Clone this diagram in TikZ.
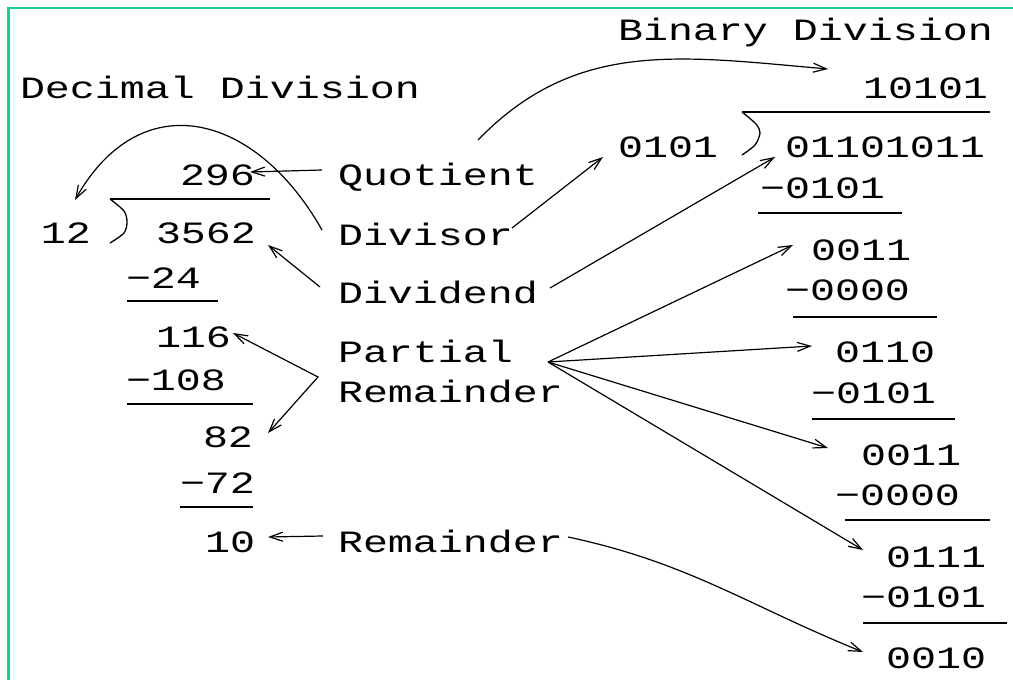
\documentclass[tikz,border=0pt]{standalone}
\usepackage{fontspec}
\usetikzlibrary{arrows.meta,calc}
\newfontfamily\codefont[FakeStretch=1.344]{Liberation Mono}
\definecolor{frameteal}{RGB}{25,204,150}

\begin{document}
\begin{tikzpicture}[x=1pt,y=-1pt,
  txt/.style={anchor=base west,inner sep=0pt,outer sep=0pt,
              font=\codefont\fontsize{31pt}{36pt}\selectfont},
  tipstyle/.style={},
  conn/.style={line width=1.2pt,-{Straight Barb[length=13pt,width=9pt]}},
  conntwo/.style={line width=1.2pt,{Straight Barb[length=13pt,width=9pt]}-{Straight Barb[length=13pt,width=9pt]}},
  rule/.style={line width=2pt},
  bracket/.style={line width=1.3pt}]
\useasboundingbox (0,0) rectangle (1013,680);

% frame along the top and left edges
\draw[frameteal,line width=2.5pt] (8.5,680) -- (8.5,8) -- (1013,8);

% titles
\node[txt] (tdec) at (20,98)  {Decimal Division};
\node[txt] (tbin) at (618,40) {Binary Division};

% decimal long division
\node[txt] (q296)  at (180,185) {296};
\node[txt] (n12)   at (41,243)  {12};
\node[txt] (n3562) at (156,243) {3562};
\node[txt] (m24)   at (126,288) {−24};
\node[txt] (n116)  at (156,347) {116};
\node[txt] (m108)  at (126,390) {−108};
\node[txt] (n82)   at (203,447) {82};
\node[txt] (m72)   at (180,493) {−72};
\node[txt] (n10)   at (205,552) {10};

\draw[rule] (110,199) -- (270,199);
\draw[bracket] plot[smooth] coordinates {(110,199) (124,211) (127,222) (124,233) (110,243)};
\draw[rule] (127,301) -- (218,301);
\draw[rule] (127,404) -- (253,404);
\draw[rule] (180,507) -- (253,507);

% labels
\node[txt] (lquot)     at (338,185) {Quotient};
\node[txt] (ldivisor)  at (338,245) {Divisor};
\node[txt] (ldividend) at (338,303) {Dividend};
\node[txt] (lpart)     at (338,362) {Partial};
\node[txt] (lrem)      at (338,402) {Remainder};
\node[txt] (lrem2)     at (338,552) {Remainder};

% binary long division
\node[txt] (bq)    at (863,98)  {10101};
\node[txt] (b0101) at (618,157) {0101};
\node[txt] (bdvd)  at (785,157) {01101011};
\node[txt] (bs1)   at (760,198) {−0101};
\node[txt] (br1)   at (811,260) {0011};
\node[txt] (bs2)   at (785,300) {−0000};
\node[txt] (br2)   at (835,362) {0110};
\node[txt] (bs3)   at (811,403) {−0101};
\node[txt] (br3)   at (861,465) {0011};
\node[txt] (bs4)   at (835,505) {−0000};
\node[txt] (br4)   at (886,567) {0111};
\node[txt] (bs5)   at (861,607) {−0101};
\node[txt] (bfin)  at (886,668) {0010};

\draw[rule] (742,112) -- (990,112);
\draw[bracket] plot[smooth] coordinates {(742,112) (756,124) (760,133) (755,145) (742,155)};
\draw[rule] (758,213) -- (902,213);
\draw[rule] (793,317) -- (937,317);
\draw[rule] (812,419) -- (955,419);
\draw[rule] (845,520) -- (990,520);
\draw[rule] (863,623) -- (1007,623);

% connectors on the decimal side
\draw[conn] ($(lquot.base west)+(-16,-15)$) -- ($(q296.base east)+(-5,-13)$);
\draw[conn] ($(ldivisor.base west)+(-16,-15)$)
   .. controls +(-66,-117) and +(66,-117) .. ($(n12.base west)+(34,-43)$);
\draw[conn] ($(ldividend.base west)+(-18,-16)$) -- ($(n3562.base east)+(12,2)$);
\draw[conntwo] ($(n116.base east)+(2,-14)$) -- ($(lpart.base west)+(-20,15)$)
   -- ($(n82.base east)+(15,-14)$);
\draw[conn] ($(lrem2.base west)+(-15,-16)$) -- ($(n10.base east)+(13,-15)$);

% connectors on the binary side
\draw[conn] ($(lquot.base east)+(-60,-45)$)
   .. controls +(98,-101) and +(-149,-13) .. ($(bq.base west)+(-35,-29)$);
\draw[conn] ($(ldivisor.base east)+(-1,-17)$) -- ($(b0101.base west)+(-15,0)$);
\draw[conn] ($(ldividend.base east)+(12,-15)$) -- ($(bdvd.base west)+(-10,0)$);
\coordinate (pr) at ($(lpart.base east)+(35,0)$);
\draw[conn] (pr) -- ($(br1.base west)+(-18,-15)$);
\draw[conn] (pr) -- ($(br2.base west)+(-23,-16)$);
\draw[conn] (pr) -- ($(br3.base west)+(-33,-17)$);
\draw[conn] (pr) -- ($(br4.base west)+(-23,-17)$);
\draw[conn] ($(lrem2.base east)+(5,-15)$) to[out=-12,in=158] ($(bfin.base west)+(-23,-16)$);
\end{tikzpicture}
\end{document}
